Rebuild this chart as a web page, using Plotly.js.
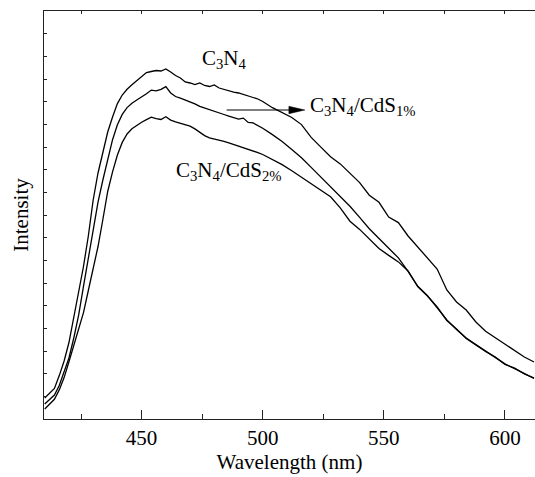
<!DOCTYPE html>
<html>
<head>
<meta charset="utf-8">
<script src="https://cdn.plot.ly/plotly-3.0.1.min.js"></script>
<style>html,body{margin:0;padding:0;background:#fff;}#chart{width:535px;height:477px;}</style>
</head>
<body>
<div id="chart"></div>
<script>
// Wavelength grid (nm)
const wavelength = [410,412,414,416,418,420,422,424,426,428,430,432,434,436,438,440,442,444,446,448,
  450,452,454,456,458,460,462,464,466,468,470,472,474,476,478,480,482,484,486,488,490,492,494,496,498,
  500,504,508,512,516,520,524,528,532,536,540,544,548,552,556,560,564,568,572,576,580,584,588,592,596,600,604,608,612];

// Intensity (a.u.)
const c3n4 = [21,25.7,30.5,43.4,58,76.5,101,128,152.5,183,219,246,268,287,302,315.4,324,329.7,334.2,338,
  342,346.4,347.5,348.5,348,350,347,343.5,341,337,336,334.5,336,333.5,332.5,334,331,329.5,328,326.8,326,324.7,323,321.5,320,
  317.5,311.3,306.5,301.5,294.4,281.6,271.9,262.2,255.1,245.5,236.4,223.8,216.7,202,196.4,183,171.7,160.8,150,129,117,109,97,87.8,81.3,75,68.4,62,57];

const c3n4CdS1 = [15,20,24,33.5,47,61,81,103.8,132.6,160.8,189.2,216.9,239,260.3,279.3,294.2,304.6,311.4,315.8,319,
  321.9,325.2,328.9,328.2,329.6,332.3,326,322.5,320.9,319.2,317.2,315.2,312.7,311.2,309.4,307.5,306,304.5,302.8,301.5,299.8,300.9,296.6,296.1,293.7,
  290.8,284.4,277.6,269.6,261.3,251.6,241.9,232.2,222.5,212.8,201.6,190.3,180.5,170.8,161.1,147.7,132.7,123.4,111.2,99.1,89.6,81,74.4,68,61.3,55.1,50.3,45.4,40.6];

const c3n4CdS2 = [10,15,19.7,29.1,41.4,57.2,74.3,89.6,106.4,128.5,151.6,172.5,199.5,227.5,247.1,264,276.6,285,290.2,293.8,
  296.7,299.4,301.9,300.4,299.5,302.2,298.9,297.1,295.7,294,292.8,290.1,286.4,283.4,281.2,280.2,279.3,277.6,276.1,274.6,273,271.6,269.9,268,266.4,
  264.5,259.6,254.4,248.2,241.6,235.2,228.8,222.2,211.2,197.8,189.6,180.1,170.5,163.6,157.1,148,132.5,123,112,98.5,90,80.5,74,67.5,62,54.5,51,45,41];

const xTitle = 'Wavelength (nm)';
const yTitle = 'Intensity';
const labels = ['C<sub>3</sub>N<sub>4</sub>', 'C<sub>3</sub>N<sub>4</sub>/CdS<sub>1%</sub>', 'C<sub>3</sub>N<sub>4</sub>/CdS<sub>2%</sub>'];

const serif = 'Liberation Serif, Times New Roman, serif';
const lineStyle = {color: '#000', width: 1.3};
const traces = [
  {x: wavelength, y: c3n4, name: labels[0], type: 'scatter', mode: 'lines', line: lineStyle},
  {x: wavelength, y: c3n4CdS1, name: labels[1], type: 'scatter', mode: 'lines', line: lineStyle},
  {x: wavelength, y: c3n4CdS2, name: labels[2], type: 'scatter', mode: 'lines', line: lineStyle},
  {x: [], y: [], xaxis: 'x2', type: 'scatter', mode: 'lines', showlegend: false, hoverinfo: 'skip'}
];

const xr = [409.7, 612.4];
const yr = [0, 408];
const layout = {
  width: 535, height: 477,
  margin: {l: 44, r: 0, t: 11, b: 58, pad: 0},
  paper_bgcolor: '#fff', plot_bgcolor: '#fff',
  showlegend: false,
  font: {family: serif, size: 21, color: '#000'},
  xaxis: {
    range: xr, showgrid: false, zeroline: false,
    showline: true, linecolor: '#222', linewidth: 1,
    ticks: 'inside', tick0: 450, dtick: 50, ticklen: 9, tickwidth: 1, tickcolor: '#222',
    minor: {ticks: 'inside', dtick: 25, tick0: 425, ticklen: 5, tickwidth: 1, tickcolor: '#222', showgrid: false},
    tickfont: {family: serif, size: 21, color: '#000'},
    title: {text: xTitle, font: {family: serif, size: 21, color: '#000'}, standoff: 4}
  },
  xaxis2: {
    range: xr, overlaying: 'x', side: 'top', showgrid: false, zeroline: false,
    showline: true, linecolor: '#222', linewidth: 1,
    ticks: 'inside', tick0: 425, dtick: 25, ticklen: 3, tickwidth: 1, tickcolor: '#222',
    showticklabels: false
  },
  yaxis: {
    range: yr, showgrid: false, zeroline: false,
    showline: true, linecolor: '#222', linewidth: 1,
    ticks: 'inside', tick0: 0, dtick: 408 / 18, ticklen: 3, tickwidth: 1, tickcolor: '#222',
    showticklabels: false,
    title: {text: yTitle, font: {family: serif, size: 21, color: '#000'}, standoff: 8}
  },
  annotations: [
    {xref: 'x', yref: 'y', x: 474.1, y: 360, text: labels[0], showarrow: false, xanchor: 'left', yanchor: 'middle', font: {family: serif, size: 21, color: '#000'}},
    {xref: 'x', yref: 'y', x: 518.7, y: 313, text: labels[1], showarrow: false, xanchor: 'left', yanchor: 'middle', font: {family: serif, size: 21, color: '#000'}},
    {xref: 'x', yref: 'y', x: 463.4, y: 248, text: labels[2], showarrow: false, xanchor: 'left', yanchor: 'middle', font: {family: serif, size: 21, color: '#000'}}
  ],
  shapes: [
    {type: 'line', xref: 'x', yref: 'y', x0: 485.1, y0: 309, x1: 511, y1: 309, line: {color: '#000', width: 1.2}},
    {type: 'path', xref: 'x', yref: 'y', path: 'M 510.8 312.7 L 517.4 309 L 510.8 305.3 Z', fillcolor: '#000', line: {color: '#000', width: 0.5}}
  ]
};

Plotly.newPlot('chart', traces, layout, {displayModeBar: false, staticPlot: true});
</script>
</body>
</html>
